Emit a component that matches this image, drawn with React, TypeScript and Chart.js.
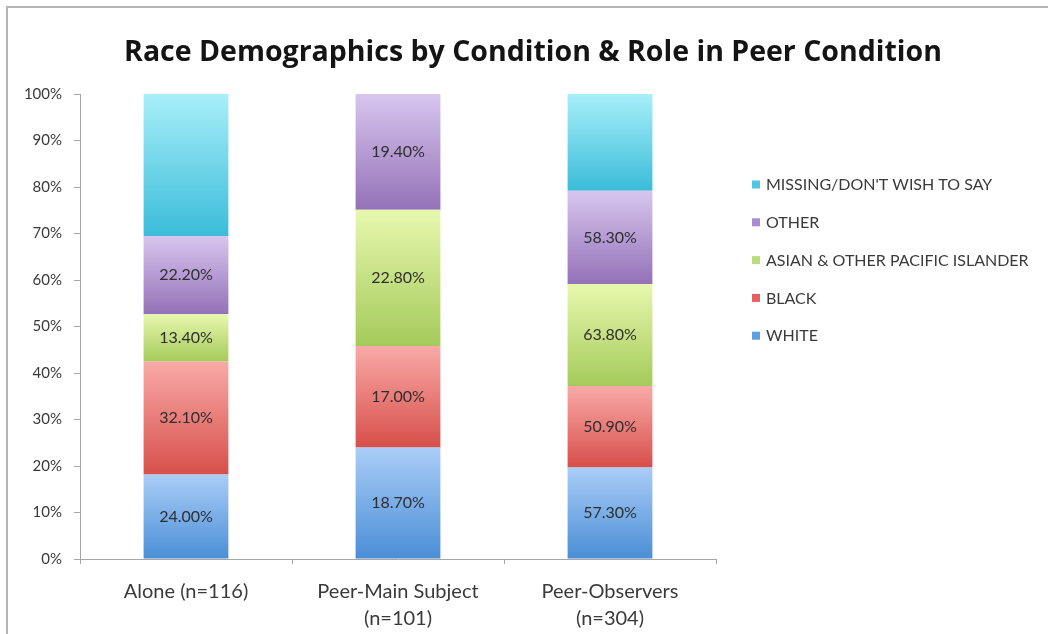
import React, { useEffect, useRef } from "react";
import { Chart, registerables } from "chart.js";

Chart.register(...registerables);

// ---- data ----
const titleText = "Race Demographics by Condition & Role in Peer Condition";
const categories: string[][] = [
  ["Alone (n=116)"],
  ["Peer-Main Subject", "(n=101)"],
  ["Peer-Observers", "(n=304)"],
];
const seriesNames = [
  "WHITE",
  "BLACK",
  "ASIAN & OTHER PACIFIC ISLANDER",
  "OTHER",
  "MISSING/DON'T WISH TO SAY",
];
const white = [24.0, 18.7, 57.3];
const black = [32.1, 17.0, 50.9];
const asian = [13.4, 22.8, 63.8];
const other = [22.2, 19.4, 58.3];
const missing = [40.3, 0, 60.5];
const showLabel = [true, true, true, true, false];
const yTickValues = [0, 10, 20, 30, 40, 50, 60, 70, 80, 90, 100];

// ---- styles ----
const gradTop = ["#aacdf7", "#f9aaa8", "#e7f8ae", "#d8c6ef", "#a8eff9"];
const gradBottom = ["#4a8ed6", "#d74f4a", "#a5ca5a", "#9371b7", "#3bbcd9"];
const legendColors = ["#5f9ee2", "#e3625e", "#bbdc7d", "#a88dd1", "#4fc8e4"];
const FONT = "Lato, 'Open Sans', sans-serif";
const TITLE_FONT = "'Open Sans', Lato, sans-serif";
const TEXT = "#3a3a3a";
const AXIS = "#a6a6a6";

const series = [white, black, asian, other, missing];
const totals = categories.map((_, i) => series.reduce((a, s) => a + s[i], 0));
const pct = series.map((s) => s.map((v, i) => (v / totals[i]) * 100));

const decorPlugin = {
  id: "decor",
  afterDatasetsDraw(chart: any) {
    const ctx = chart.ctx;
    ctx.save();
    ctx.font = `16px ${FONT}`;
    ctx.fillStyle = "#2e2e2e";
    ctx.textAlign = "center";
    ctx.textBaseline = "middle";
    series.forEach((s, si) => {
      if (!showLabel[si]) return;
      const meta = chart.getDatasetMeta(si);
      s.forEach((v, i) => {
        if (!v) return;
        const el = meta.data[i];
        ctx.fillText(v.toFixed(2) + "%", el.x, (el.y + el.base) / 2);
      });
    });
    ctx.restore();
  },
  afterDraw(chart: any) {
    const ctx = chart.ctx;
    const area = chart.chartArea;
    ctx.save();
    ctx.font = `bold 28.5px ${TITLE_FONT}`;
    ctx.fillStyle = "#141414";
    ctx.textAlign = "center";
    ctx.textBaseline = "alphabetic";
    ctx.fillText(titleText, 533, 61);
    ctx.font = `16px ${FONT}`;
    ctx.textAlign = "left";
    ctx.textBaseline = "middle";
    const x0 = area.right + 36;
    const y0 = area.top + 90.5;
    const step = 37.8;
    const order = seriesNames.map((_, i) => i).reverse();
    order.forEach((si, row) => {
      const y = y0 + row * step;
      ctx.fillStyle = legendColors[si];
      ctx.fillRect(x0, y - 4, 8, 8);
      ctx.fillStyle = TEXT;
      ctx.fillText(seriesNames[si], x0 + 14, y + 0.5);
    });
    ctx.restore();
  },
};

export default function App() {
  const ref = useRef<HTMLCanvasElement | null>(null);
  useEffect(() => {
    if (!ref.current) return;
    const datasets = series.map((s, si) => ({
      label: seriesNames[si],
      data: pct[si],
      barPercentage: 0.4,
      categoryPercentage: 1.0,
      borderWidth: 0,
      backgroundColor: (c: any) => {
        const chart = c.chart;
        if (!chart.chartArea || c.type !== "data") return legendColors[si];
        const y = chart.scales.y;
        const i = c.dataIndex;
        let start = 0;
        for (let k = 0; k < si; k++) start += pct[k][i];
        const end = start + pct[si][i];
        const top = y.getPixelForValue(end);
        const bot = y.getPixelForValue(start);
        if (!isFinite(top) || !isFinite(bot) || top === bot) return legendColors[si];
        const g = chart.ctx.createLinearGradient(0, top, 0, bot);
        g.addColorStop(0, gradTop[si]);
        g.addColorStop(1, gradBottom[si]);
        return g;
      },
    }));
    const chart = new Chart(ref.current, {
      type: "bar",
      data: { labels: categories, datasets },
      options: {
        responsive: false,
        animation: false,
        layout: { padding: { top: 94, right: 332, bottom: 0, left: 0 } },
        plugins: {
          legend: { display: false },
          title: { display: false },
          tooltip: { enabled: false },
        },
        scales: {
          x: {
            stacked: true,
            grid: { drawOnChartArea: false, drawTicks: true, tickLength: 5, color: AXIS, offset: true },
            border: { color: AXIS, width: 1 },
            ticks: {
              font: { family: FONT, size: 20, lineHeight: 1.36 },
              color: TEXT,
              padding: 14,
              maxRotation: 0,
              autoSkip: false,
            },
            afterFit: (s: any) => {
              s.height = 75;
            },
          },
          y: {
            stacked: true,
            min: 0,
            max: 100,
            afterBuildTicks: (s: any) => {
              s.ticks = yTickValues.map((v) => ({ value: v }));
            },
            grid: { drawOnChartArea: false, drawTicks: true, tickLength: 6, color: AXIS },
            border: { color: AXIS, width: 1 },
            ticks: {
              font: { family: FONT, size: 15 },
              color: TEXT,
              padding: 12,
              callback: (v: any) => v + "%",
            },
            afterFit: (s: any) => {
              s.width = 80;
            },
          },
        },
      },
      plugins: [decorPlugin],
    });
    return () => chart.destroy();
  }, []);

  return (
    <div style={{ position: "absolute", left: 0, top: 0, width: 1048, height: 634, background: "#fff" }}>
      <canvas ref={ref} width={1048} height={634} style={{ position: "absolute", left: 0, top: 0 }} />
      <div
        style={{
          position: "absolute",
          left: 6,
          top: 6,
          right: 0,
          bottom: 0,
          borderTop: "2px solid #b4b4b4",
          borderLeft: "2px solid #b4b4b4",
          pointerEvents: "none",
        }}
      />
    </div>
  );
}
